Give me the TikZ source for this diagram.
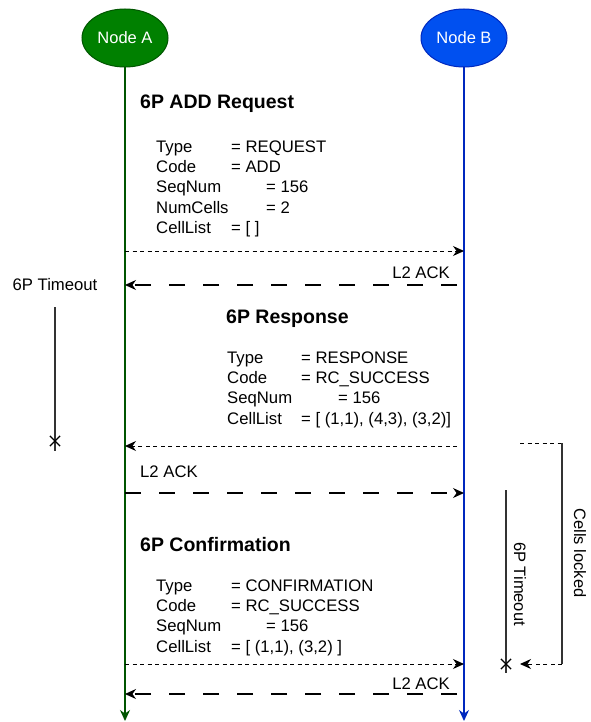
\documentclass[tikz,border=0pt]{standalone}
\usepackage{fontspec}
\setmainfont{Liberation Sans}
\usetikzlibrary{arrows.meta,shapes.geometric,shapes.misc}
\definecolor{AGreen}{RGB}{0,128,0}
\definecolor{AGreenDark}{RGB}{0,85,0}
\definecolor{BBlue}{RGB}{0,80,240}
\definecolor{BBlueDark}{RGB}{0,40,190}

\begin{document}
\begin{tikzpicture}[x=1pt,y=-1pt,
                peer/.style={ellipse,draw,line width=1pt,minimum width=86pt,minimum height=58pt,inner sep=0pt,text=white,font=\fontsize{16.5}{20}\selectfont},
                txt/.style={anchor=base west,inner sep=0pt,font=\fontsize{16.7}{20}\selectfont},
                ttl/.style={anchor=base west,inner sep=0pt,font=\fontsize{19.5}{24}\selectfont\bfseries},
                vtxt/.style={inner sep=0pt,rotate=-90,font=\fontsize{16.5}{20}\selectfont},
                life/.style={line width=1.3pt,-{Stealth[length=11pt,width=10pt]}},
                pkt/.style={black,line width=1pt,dash pattern=on 4pt off 3.5pt,-{Stealth[length=11pt,width=10pt]}},
                ack/.style={black,line width=1.1pt,dash pattern=on 16pt off 18pt,-{Stealth[length=11pt,width=10pt]}},
                tmr/.style={black!80,line width=1.2pt},
                xmk/.style={cross out,draw=black,line width=1.2pt,minimum size=9pt,inner sep=0pt}
            ]
                \useasboundingbox (0,0) rectangle (590,722);
                % Peers and lifelines
                \node[peer,fill=AGreen,draw=AGreenDark] (na) at (125,38) {Node A};
                \node[peer,fill=BBlue,draw=BBlueDark]   (nb) at (464,38) {Node B};
                \coordinate (ea) at (125,721);
                \coordinate (eb) at (464,721);
                \draw[life,AGreenDark] (na.south)--(ea);
                \draw[life,BBlueDark]  (nb.south)--(eb);
                % Message end points on the lifelines
                \foreach \n/\y in {1/251,2/285,3/446,4/493,5/664,6/694} {
                    \coordinate (a\n) at (125,\y);
                    \coordinate (b\n) at (464,\y);
                    \coordinate (c\n) at (457,\y);
                }
                % 6P ADD Request
                \node[ttl] (t1) at (140,109) {6P ADD Request};
                \foreach \yy/\key/\val/\vx in {147/Type/{= REQUEST}/231,167/Code/{= ADD}/231,187/SeqNum/{= 156}/266,207/NumCells/{= 2}/266,227/CellList/{= [ ]}/231} {
                    \node[txt] at (156,\yy+6) {\key};
                    \node[txt] at (\vx,\yy+6) {\val};
                }
                \draw[pkt] (a1)--(b1);
                \node[txt,anchor=base east] (l1) at (450,278) {L2 ACK};
                \draw[ack] (c2)--(a2);
                % 6P Response
                \node[ttl] (t2) at (226,323) {6P Response};
                \foreach \yy/\key/\val/\vx in {357/Type/{= RESPONSE}/301,377/Code/{= RC\_SUCCESS}/301,397/SeqNum/{= 156}/338,418/CellList/{= [ (1,1), (4,3), (3,2)]}/301} {
                    \node[txt] at (227,\yy+6) {\key};
                    \node[txt] at (\vx,\yy+6) {\val};
                }
                \draw[pkt] (c3)--(a3);
                \node[txt] (l2) at (140,477) {L2 ACK};
                \draw[ack] (a4)--(b4);
                % 6P Confirmation
                \node[ttl] (t3) at (140,551) {6P Confirmation};
                \foreach \yy/\key/\val/\vx in {585/Type/{= CONFIRMATION}/231,605/Code/{= RC\_SUCCESS}/231,625/SeqNum/{= 156}/266,646/CellList/{= [ (1,1), (3,2) ]}/231} {
                    \node[txt] at (156,\yy+6) {\key};
                    \node[txt] at (\vx,\yy+6) {\val};
                }
                \draw[pkt] (a5)--(b5);
                \node[txt,anchor=base east] (l3) at (450,689) {L2 ACK};
                \draw[ack] (c6)--(a6);
                % Timeout at Node A
                \node[txt,anchor=base] (to1) at (55,290) {6P Timeout};
                \coordinate (ta0) at (55,307);
                \coordinate (ta1) at (55,451);
                \draw[tmr] (ta0)--(ta1);
                \node[xmk] (xa) at (55,441) {};
                % Timeout at Node B
                \coordinate (tb0) at (506,490);
                \coordinate (tb1) at (506,673);
                \draw[tmr] (tb0)--(tb1);
                \node[xmk] (xb) at (506,664) {};
                \node[vtxt] (to2) at (520,584) {6P Timeout};
                % Cells locked
                \coordinate (k0) at (520,443);
                \coordinate (k1) at (562,443);
                \coordinate (k2) at (562,664);
                \coordinate (k3) at (520,664);
                \draw[black,line width=1pt,dash pattern=on 4pt off 3.5pt] (k0)--(k1);
                \draw[tmr] (k1)--(k2);
                \draw[pkt] (k2)--(k3);
                \node[vtxt] (cl) at (580,553) {Cells locked};
            \end{tikzpicture}
\end{document}
